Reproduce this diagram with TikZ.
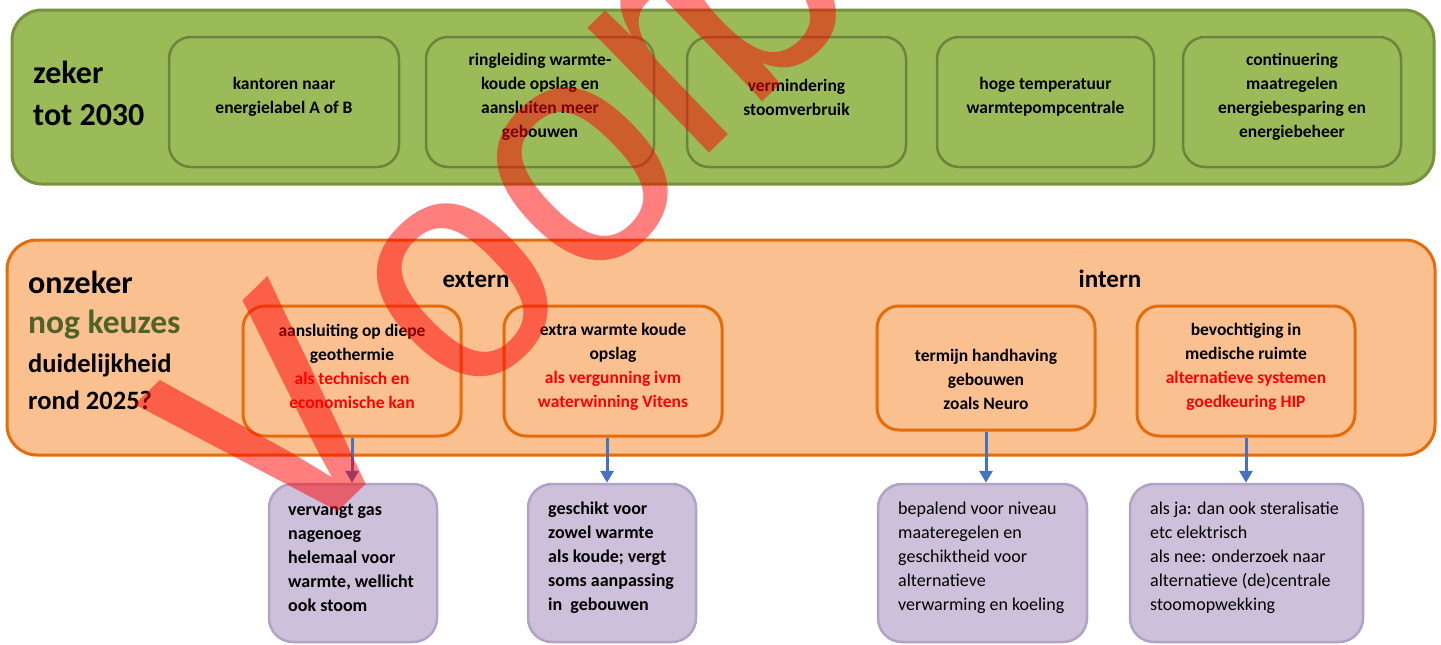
\documentclass[tikz,border=0pt]{standalone}
\usepackage{fontspec}
\setmainfont{Carlito}
\newfontfamily\wmfont{Liberation Sans}
\usetikzlibrary{arrows.meta}
\definecolor{gfill}{HTML}{9BBB59}
\definecolor{gouter}{HTML}{76923C}
\definecolor{ginner}{HTML}{6B863C}
\definecolor{ofill}{HTML}{FAC090}
\definecolor{oline}{HTML}{E46C0A}
\definecolor{pfill}{HTML}{CCC0DA}
\definecolor{pline}{HTML}{B3A2C7}
\definecolor{ablue}{HTML}{4472C4}
\definecolor{dgreen}{HTML}{4F6228}
\definecolor{wred}{HTML}{FF0000}
\tikzset{
  outerg/.style={draw=gouter, line width=3pt, fill=gfill, rounded corners=30pt, inner sep=0},
  outero/.style={draw=oline, line width=3pt, fill=ofill, rounded corners=30pt, inner sep=0},
  gbox/.style={draw=ginner, line width=2.5pt, fill=gfill, rounded corners=22pt, inner sep=0, minimum height=130pt},
  obox/.style={draw=oline, line width=3pt, fill=ofill, rounded corners=22pt, inner sep=0},
  pbox/.style={draw=pline, line width=2.5pt, fill=pfill, rounded corners=24pt, inner sep=0, minimum height=158pt},
  btxt/.style={align=center, font=\bfseries\fontsize{17.5}{24}\selectfont, inner sep=0},
  ptxt/.style={align=left, font=\fontsize{18}{24}\selectfont, anchor=west, inner sep=0},
  ptxtb/.style={ptxt, font=\bfseries\fontsize{18}{24}\selectfont},
  bigl/.style={font=\bfseries\fontsize{32}{38}\selectfont, anchor=base west, inner sep=0},
  midl/.style={font=\bfseries\fontsize{26.5}{32}\selectfont, anchor=base west, inner sep=0},
  headl/.style={font=\bfseries\fontsize{25}{30}\selectfont, anchor=base, inner sep=0},
  arr/.style={draw=ablue, line width=3pt, -{Triangle[width=13pt,length=12pt]}},
  wm/.style={text=wred, opacity=0.5, inner sep=0, font=\wmfont\fontsize{300}{300}\selectfont},
  red/.style={text=wred}
}
\begin{document}
\begin{tikzpicture}[x=1pt,y=-1pt]
\useasboundingbox[fill=white] (0,0) rectangle (1441,645);

% green band
\node[outerg, minimum width=1422pt, minimum height=174pt] (zekerband) at (723,97) {};
\node[bigl] (zeker1) at (33,83) {zeker};
\node[bigl] (zeker2) at (33,125) {tot 2030};
\node[gbox, minimum width=230pt] (g1) at (284,102) {};
\node[gbox, minimum width=228pt] (g2) at (540,102) {};
\node[gbox, minimum width=219pt] (g3) at (796.5,102) {};
\node[gbox, minimum width=217pt] (g4) at (1045.5,102) {};
\node[gbox, minimum width=218pt] (g5) at (1292,102) {};
\node[btxt] (g1t) at (284,97) {kantoren naar\\energielabel A of B};
\node[btxt] (g2t) at (540,97) {ringleiding warmte-\\koude opslag en\\aansluiten meer\\gebouwen};
\node[btxt] (g3t) at (796.5,97) {vermindering\\stoomverbruik};
\node[btxt] (g4t) at (1045.5,97) {hoge temperatuur\\warmtepompcentrale};
\node[btxt] (g5t) at (1292,97) {continuering\\maatregelen\\energiebesparing en\\energiebeheer};

% orange band
\node[outero, minimum width=1428pt, minimum height=215pt] (onzekerband) at (721,347.5) {};
\node[bigl] (onz1) at (28,293) {onzeker};
\node[bigl, text=dgreen, font=\bfseries\fontsize{33.5}{38}\selectfont] (onz2) at (28,333) {nog keuzes};
\node[midl] (onz3) at (28,372) {duidelijkheid};
\node[midl] (onz4) at (28,409) {rond 2025?};
\node[headl] (extern) at (476,287) {extern};
\node[headl] (intern) at (1110,287) {intern};

\node[obox, minimum width=218pt, minimum height=130pt] (oa) at (352,371) {};
\node[obox, minimum width=218pt, minimum height=130pt] (ob) at (613,371) {};
\node[obox, minimum width=218pt, minimum height=124pt] (oc) at (986,368) {};
\node[obox, minimum width=218pt, minimum height=130pt] (od) at (1246,371) {};
\node[btxt] (oat) at (352,366.5) {aansluiting op diepe\\geothermie\\\textcolor{wred}{als technisch en}\\\textcolor{wred}{economische kan}};
\node[btxt] (obt) at (613,366.5) {extra warmte koude\\opslag\\\textcolor{wred}{als vergunning ivm}\\\textcolor{wred}{waterwinning Vitens}};
\node[btxt] (oct) at (986,379) {termijn handhaving\\gebouwen\\zoals Neuro};
\node[btxt] (odt) at (1246,366.5) {bevochtiging in\\medische ruimte\\\textcolor{wred}{alternatieve systemen}\\\textcolor{wred}{goedkeuring HIP}};

% purple boxes
\node[pbox, minimum width=168pt] (pa) at (353,563) {};
\node[pbox, minimum width=168pt] (pb) at (612,563) {};
\node[pbox, minimum width=209pt] (pc) at (982.5,563) {};
\node[pbox, minimum width=233pt] (pd) at (1246.5,563) {};
\node[ptxtb] (pat) at (288,558) {vervangt gas\\nagenoeg\\helemaal voor\\warmte, wellicht\\ook stoom};
\node[ptxtb] (pbt) at (548,558) {geschikt voor\\zowel warmte\\als koude; vergt\\soms aanpassing\\in\ \ gebouwen};
\node[ptxt] (pct) at (898,558) {bepalend voor niveau\\maateregelen en\\geschiktheid voor\\alternatieve\\verwarming en koeling};
\node[ptxt] (pdt) at (1150,558) {als ja: dan ook steralisatie\\etc elektrisch\\als nee: onderzoek naar\\alternatieve (de)centrale\\stoomopwekking};

% arrows
\draw[arr] (oa.south) -- (oa.south |- pa.north);
\draw[arr] ([xshift=-6pt]ob.south) -- ([xshift=-6pt]ob.south |- pb.north);
\draw[arr] (oc.south) -- (oc.south |- pc.north);
\draw[arr] (od.south) -- (od.south |- pd.north);

% watermark
\node[wm, anchor=base west, rotate=44] (watermark) at (285.6,562.2) {\scalebox{1}[1.1]{\scalebox{1.25}{v}\kern45pt\raisebox{-14pt}{oo}\kern2pt r\kern-25pt beeld}};
\end{tikzpicture}
\end{document}
